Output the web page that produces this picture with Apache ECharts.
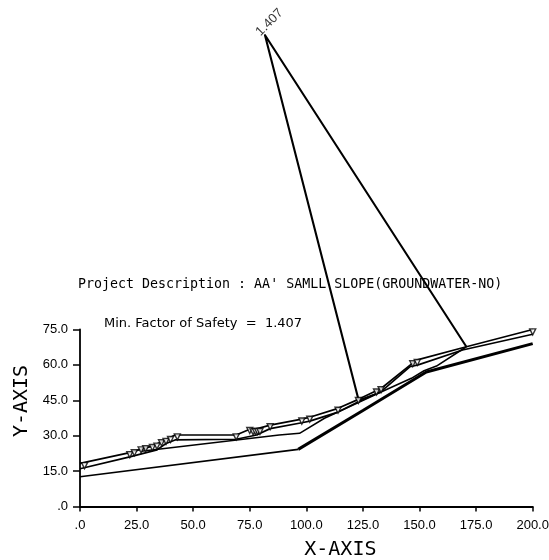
<!DOCTYPE html>
<html>
<head>
<meta charset="utf-8">
<style>html,body{margin:0;padding:0;background:#fff}#c{width:549px;height:560px}</style>
<script src="https://cdn.jsdelivr.net/npm/echarts@6/dist/echarts.min.js"></script>
</head>
<body>
<div id="c"></div>
<script>
const xTickValues = [0, 25, 50, 75, 100, 125, 150, 175, 200];
const xTickLabels = ['.0', '25.0', '50.0', '75.0', '100.0', '125.0', '150.0', '175.0', '200.0'];
const yTickValues = [0, 15, 30, 45, 60, 75];
const yTickLabels = ['.0', '15.0', '30.0', '45.0', '60.0', '75.0'];
const groundSurface = [[0,18.3],[22,22.8],[27,24.3],[32,25.6],[36,27.4],[42,30.3],[69,30.3],[75,32.7],[78,32.9],[84,34.5],[98,37],[101.5,37.8],[114,41.6],[123,45.4],[133,50],[148.6,62],[170.7,67.7],[200,75]];
const layerOne = [[0,16],[22,21],[34,24],[38,26.7],[42,28.2],[69,28.5],[78,30.3],[84,33],[98,35.5],[101.5,36.2],[114,40],[123,44.4],[133,48.7],[145.7,59.2],[149.4,60],[169,66.3],[200,73]];
const layerTwo = [[27,23.4],[88,30.3],[97,31],[108,37.4],[123,44],[133,48.5]];
const bedrockGentle = [[0,12.6],[96.4,24.2]];
const bedrockSteep = [[96.4,24.2],[125,40.7],[153,57],[200,69]];
const slipSurface = [[123,45],[133,48.5],[146.4,54.3],[152,57.5],[157.5,59.5],[170.7,67.7]];
const slipRadii = [[123,45.4],[81.7,199.8],[170.7,67.7]];
const slipCentre = [[81.7,199.8]];
const surfaceMarks = [[2,17.3],[22,22],[24,22.8],[27,24],[29,24.5],[32,25],[34,25.6],[36,27],[38,27.6],[40,28.4],[43,29.5],[69,29.5],[75,32.2],[76.5,31.6],[77.5,31.8],[78.5,31.8],[79.5,31.8],[84,33.8],[98,36.2],[101.5,37],[114,40.8],[123,44.9],[131,48.5],[133,49.5],[147,60.5],[149,61],[200,74]];
const titleLines = ["Project Description : AA' SAMLL SLOPE(GROUNDWATER-NO)", 'Min. Factor of Safety  =  1.407'];
const factorLabel = '1.407';

const ink = '#000';
function line(data, width) {
  return { type: 'line', data, symbol: 'none', clip: false, silent: true,
    lineStyle: { color: ink, width }, z: 3 };
}
const chart = echarts.init(document.getElementById('c'), null, { renderer: 'canvas' });
chart.setOption({
  animation: false,
  backgroundColor: '#fff',
  title: [
    { text: titleLines[0], left: 78, top: 278, padding: 0,
      textStyle: { fontFamily: 'DejaVu Sans Mono', fontSize: 13.3, fontWeight: 'normal', color: ink } },
    { text: titleLines[1], left: 104, top: 317, padding: 0,
      textStyle: { fontFamily: 'DejaVu Sans', fontSize: 13, fontWeight: 'normal', color: ink } }
  ],
  grid: { left: 80, top: 329.5, width: 452.7, height: 177, containLabel: false, outerBoundsMode: 'none' },
  xAxis: {
    type: 'value', min: 0, max: 200, interval: 25,
    name: 'X-AXIS', nameLocation: 'middle', nameGap: 33,
    nameTextStyle: { fontFamily: 'DejaVu Sans Mono', fontSize: 20, color: ink, padding: [0, 0, 0, 68] },
    axisLine: { show: true, onZero: false, lineStyle: { color: ink, width: 1.8 } },
    axisTick: { show: true, length: 5, lineStyle: { color: ink, width: 1.5 } },
    splitLine: { show: false },
    axisLabel: { color: ink, fontFamily: 'Liberation Sans', fontSize: 13, margin: 12, showMaxLabel: true, hideOverlap: false,
      formatter: v => xTickLabels[xTickValues.indexOf(v)] }
  },
  yAxis: {
    type: 'value', min: 0, max: 75, interval: 15,
    name: 'Y-AXIS', nameLocation: 'middle', nameGap: 48, nameRotate: 90,
    nameTextStyle: { fontFamily: 'DejaVu Sans Mono', fontSize: 20, color: ink, padding: [0, 0, 0, 34] },
    axisLine: { show: true, onZero: false, lineStyle: { color: ink, width: 1.8 } },
    axisTick: { show: true, length: 7, lineStyle: { color: ink, width: 1.5 } },
    splitLine: { show: false },
    axisLabel: { color: ink, fontFamily: 'Liberation Sans', fontSize: 13, margin: 12,
      formatter: v => yTickLabels[yTickValues.indexOf(v)] }
  },
  series: [
    line(groundSurface, 1.7),
    line(layerOne, 1.7),
    line(layerTwo, 1.5),
    line(bedrockGentle, 1.6),
    line(bedrockSteep, 3),
    line(slipSurface, 1.6),
    line(slipRadii, 2.1),
    { type: 'scatter', data: surfaceMarks, clip: false, silent: true, symbol: 'triangle', symbolRotate: 180, symbolSize: 6,
      itemStyle: { color: '#fff', borderColor: ink, borderWidth: 1.4 }, z: 4 },
    { type: 'scatter', data: slipCentre, clip: false, silent: true, symbolSize: 2,
      itemStyle: { color: ink }, z: 4,
      label: { show: true, formatter: factorLabel, position: 'top', rotate: 45, distance: 2, offset: [10, 3],
        color: ink, fontFamily: 'Liberation Sans', fontSize: 13 } }
  ]
});
</script>
</body>
</html>
